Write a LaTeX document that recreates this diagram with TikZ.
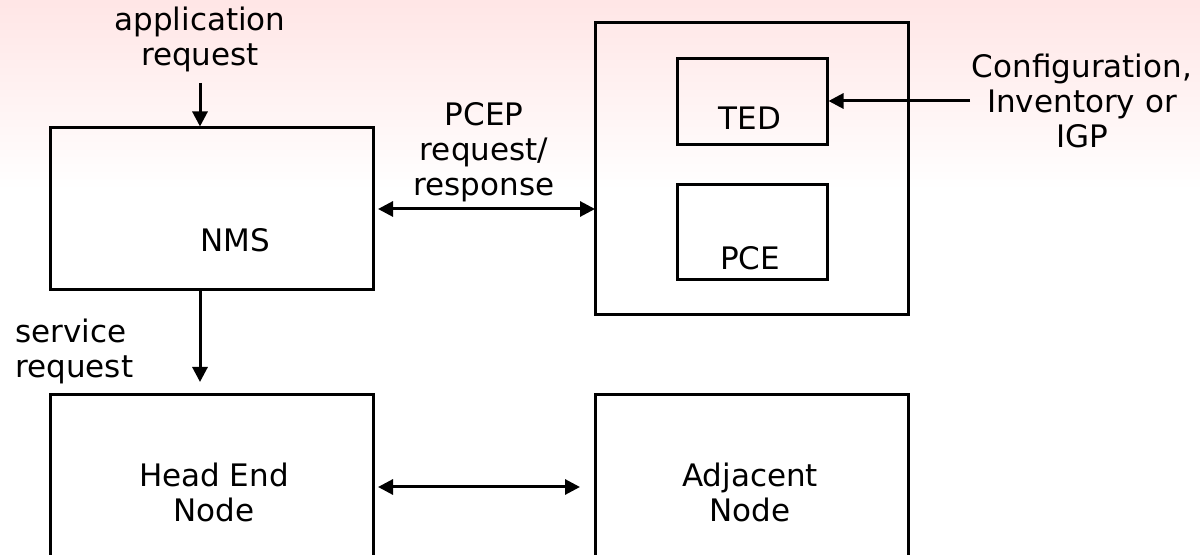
\documentclass[tikz,border=0pt]{standalone}
\usepackage{fontspec}
\setmainfont{DejaVu Sans}
\usetikzlibrary{arrows.meta}
\tikzset{
	blk/.style={draw, line width=1.5pt, inner sep=0pt},
	lbl/.style={align=center, inner sep=0pt, font=\fontsize{15.5}{17.5}\selectfont},
	arr/.style={line width=1.5pt, -{Triangle[length=7.5pt,width=7.5pt]}},
	darr/.style={line width=1.5pt, {Triangle[length=7.5pt,width=7.5pt]}-{Triangle[length=7.5pt,width=7.5pt]}}
}
\begin{document}
\begin{tikzpicture}[x=0.5pt,y=-0.5pt]
\useasboundingbox (0,0) rectangle (1200,555);
\clip (0,0) rectangle (1200,555);
\shade[top color=red!10, bottom color=white] (0,0) rectangle (1200,190);
% boxes
\node[blk, minimum width=161.5pt, minimum height=81pt] (nms) at (211.5,209) {};
\node[blk, minimum width=156.5pt, minimum height=146pt] (pcebox) at (751.5,169) {};
\node[blk, minimum width=75pt, minimum height=43pt] (ted) at (752,102) {};
\node[blk, minimum width=75pt, minimum height=47.5pt] (pce) at (752,232.5) {};
\node[blk, minimum width=161.5pt, minimum height=102.5pt] (head) at (211.5,497.5) {};
\node[blk, minimum width=156.5pt, minimum height=102.5pt] (adj) at (751.5,497.5) {};
% texts
\node[lbl] (nmstxt) at (235,240) {NMS};
\node[lbl] (tedtxt) at (750,118) {TED};
\node[lbl] (pcetxt) at (750,258) {PCE};
\node[lbl] (headtxt) at (214,492) {Head End\\Node};
\node[lbl] (adjtxt) at (750,492) {Adjacent\\Node};
\node[lbl] (apptxt) at (200,39) {application\\request};
\node[lbl] (pceptxt) at (484,152) {PCEP\\request/\\response};
\node[lbl, align=left, anchor=west] (srvtxt) at (15,351) {service\\request};
\node[lbl] (cfgtxt) at (1082,101) {Configuration,\\Inventory or\\IGP};
% connectors
\coordinate (append) at (200,83);
\coordinate (srvend) at (200,382);
\coordinate (pcepl) at (378,209);
\coordinate (pcepr) at (595,209);
\coordinate (cfgend) at (970,101);
\coordinate (botl) at (378,487);
\coordinate (botr) at (580,487);
\draw[arr] (append) -- (append |- nms.north);
\draw[arr] (nms.south -| srvend) -- (srvend);
\draw[darr] (pcepl) -- (pcepr);
\draw[arr] (cfgend) -- (ted.east |- cfgend);
\draw[darr] (botl) -- (botr);
\end{tikzpicture}
\end{document}
